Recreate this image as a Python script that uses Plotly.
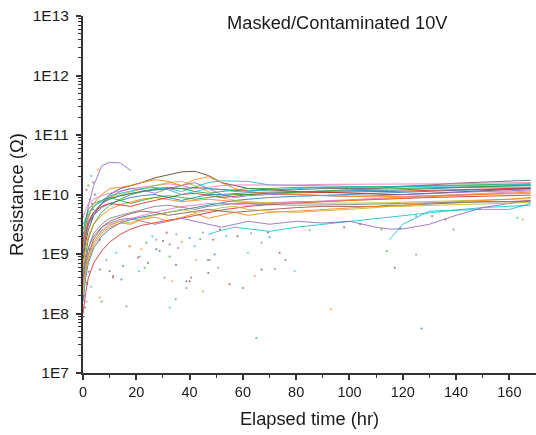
import plotly.graph_objects as go

# time grid (hr)
T = [0, 1, 2, 4, 7, 10, 14, 18, 22, 27, 32, 37, 42, 47, 52, 57, 62, 70, 80, 90,
     100, 110, 115, 120, 130, 140, 150, 160, 168]

N = None
# log10(resistance) of each specimen
s01 = [9.2, 9.55, 9.8, 10.15, 10.48, 10.54, 10.53, 10.40] + [N] * 21
s02 = [8.9, 9.2, 9.4, 9.65, 9.85, 10.0, 10.1, 10.15, 10.2, 10.28, 10.33, 10.38, 10.39, 10.32, 10.2, 10.15, 10.1, 10.08, 10.05, 10.04, 10.02, 10.0, 10.0, 10.0, 10.02, 10.04, 10.06, 10.08, 10.1]
s03 = [9.5, 9.6, 9.7, 9.8, 9.88, 9.93, 9.98, 10.02, 10.05, 10.08, 10.1, 10.05, 10.12, 10.2, 10.23, 10.23, 10.22, 10.16, 10.15, 10.14, 10.14, 10.13, 10.13, 10.13, 10.13, 10.12, 10.12, 10.12, 10.12]
s04 = [9.0, 9.3, 9.5, 9.7, 9.85, 9.92, 9.98, 10.02, 10.05, 10.08, 10.1, 10.1, 10.12, 10.1, 10.08, 10.07, 10.06, 10.08, 10.08, 10.1, 10.1, 10.1, 10.12, 10.13, 10.16, 10.19, 10.21, 10.23, 10.24]
s05 = [9.6, 9.75, 9.85, 9.92, 9.98, 10.02, 10.06, 10.1, 10.12, 10.15, 10.18, 10.15, 10.1, 10.12, 10.15, 10.16, 10.16, 10.15, 10.16, 10.17, 10.17, 10.17, 10.17, 10.17, 10.18, 10.18, 10.19, 10.2, 10.2]
s06 = [8.7, 9.0, 9.25, 9.5, 9.7, 9.82, 9.92, 10.0, 10.05, 10.1, 10.12, 10.1, 10.05, 10.02, 10.05, 10.08, 10.1, 10.1, 10.12, 10.12, 10.12, 10.13, 10.13, 10.14, 10.15, 10.15, 10.16, 10.17, 10.18]
s07 = [8.2, 8.6, 8.85, 9.1, 9.3, 9.42, 9.52, 9.58, 9.62, 9.66, 9.7, 9.74, 9.78, 9.82, 9.86, 9.9, 9.92, 9.95, 9.97, 9.98, 10.0, 10.02, 10.03, 10.04, 10.06, 10.07, 10.08, 10.09, 10.1]
s08 = [8.0, 8.35, 8.6, 8.85, 9.05, 9.2, 9.33, 9.42, 9.48, 9.53, 9.57, 9.6, 9.65, 9.7, 9.74, 9.77, 9.8, 9.83, 9.86, 9.88, 9.9, 9.92, 9.93, 9.94, 9.95, 9.96, 9.97, 9.98, 9.99]
s09 = [8.8, 9.1, 9.3, 9.5, 9.65, 9.75, 9.83, 9.88, 9.92, 9.95, 9.92, 9.88, 9.9, 9.92, 9.9, 9.88, 9.86, 9.86, 9.88, 9.88, 9.9, 9.92, 9.93, 9.94, 9.96, 9.98, 10.0, 10.02, 10.04]
s10 = [9.3, 9.5, 9.65, 9.8, 9.9, 9.95, 10.0, 10.05, 10.1, 10.15, 10.2, 10.22, 10.15, 10.05, 9.95, 9.9, 9.88, 9.85, 9.85, 9.85, 9.85, 9.86, 9.86, 9.87, 9.88, 9.9, 9.9, 9.92, 9.93]
s11 = [8.5, 8.8, 9.0, 9.25, 9.45, 9.55, 9.62, 9.68, 9.72, 9.7, 9.65, 9.68, 9.72, 9.75, 9.72, 9.7, 9.72, 9.75, 9.78, 9.8, 9.8, 9.8, 9.82, 9.82, 9.84, 9.86, 9.88, 9.88, 9.9]
s12 = [N] * 13 + [9.33, 9.4, 9.45, 9.42, 9.38, 9.45, 9.5, 9.55, 9.6, 9.62, 9.64, 9.7, 9.74, 9.78, 9.8, 9.82]
s13 = [N] * 22 + [9.24, 9.5, 9.72, 9.74, 9.75, 9.75, 9.85]
s14 = [8.6, 8.9, 9.1, 9.3, 9.45, 9.52, 9.58, 9.6, 9.55, 9.5, 9.55, 9.6, 9.55, 9.5, 9.45, 9.5, 9.55, 9.5, 9.55, 9.52, 9.55, 9.45, 9.42, 9.42, 9.5, 9.65, 9.78, 9.85, 9.9]
s15 = [9.1, 9.35, 9.5, 9.65, 9.78, 9.85, 9.9, 9.95, 9.98, 10.0, 9.95, 9.9, 9.95, 10.0, 10.0, 10.02, 10.03, 10.04, 10.05, 10.06, 10.06, 10.07, 10.07, 10.08, 10.1, 10.12, 10.14, 10.15, 10.16]
s16 = [9.2, 9.4, 9.55, 9.7, 9.8, 9.85, 9.82, 9.8, 9.85, 9.9, 9.95, 10.0, 10.02, 9.98, 9.95, 9.97, 10.0, 10.02, 10.03, 10.03, 10.04, 10.05, 10.05, 10.06, 10.07, 10.08, 10.09, 10.1, 10.11]
s17 = [8.4, 8.7, 8.9, 9.15, 9.35, 9.45, 9.52, 9.5, 9.58, 9.62, 9.55, 9.62, 9.68, 9.6, 9.65, 9.7, 9.65, 9.7, 9.72, 9.75, 9.78, 9.8, 9.8, 9.82, 9.85, 9.88, 9.9, 9.92, 9.95]
s18 = [9.4, 9.6, 9.75, 9.85, 9.9, 9.95, 9.9, 9.85, 9.9, 9.95, 9.98, 9.95, 9.92, 9.95, 9.98, 10.0, 10.0, 10.02, 10.04, 10.06, 10.08, 10.09, 10.1, 10.1, 10.11, 10.12, 10.13, 10.14, 10.15]
s19 = [8.5, 8.8, 9.0, 9.2, 9.38, 9.48, 9.55, 9.6, 9.65, 9.7, 9.75, 9.8, 9.82, 9.85, 9.85, 9.83, 9.82, 9.85, 9.87, 9.9, 9.92, 9.94, 9.95, 9.96, 9.98, 10.0, 10.02, 10.04, 10.06]
s20 = [8.3, 8.7, 8.95, 9.2, 9.4, 9.5, 9.55, 9.52, 9.6, 9.65, 9.7, 9.75, 9.7, 9.72, 9.78, 9.8, 9.75, 9.72, 9.7, 9.72, 9.75, 9.78, 9.8, 9.8, 9.82, 9.83, 9.84, 9.86, 9.87]
s21 = [9.0, 9.3, 9.5, 9.7, 9.85, 9.95, 10.05, 10.1, 10.08, 10.02, 10.1, 10.15, 10.2, 10.1, 10.0, 9.95, 9.98, 10.0, 10.0, 9.98, 9.97, 9.98, 9.99, 10.0, 10.02, 10.04, 10.05, 10.06, 10.08]
s22 = [8.6, 8.9, 9.1, 9.35, 9.5, 9.6, 9.65, 9.7, 9.75, 9.8, 9.82, 9.78, 9.75, 9.8, 9.82, 9.85, 9.85, 9.83, 9.82, 9.82, 9.83, 9.84, 9.85, 9.85, 9.86, 9.87, 9.87, 9.88, 9.88]
s23 = [9.3, 9.5, 9.65, 9.8, 9.9, 9.98, 10.02, 10.05, 10.1, 10.12, 10.08, 10.0, 10.05, 10.1, 10.08, 10.05, 10.06, 10.08, 10.1, 10.12, 10.12, 10.12, 10.13, 10.13, 10.14, 10.15, 10.16, 10.17, 10.17]
s24 = [9.1, 9.4, 9.6, 9.85, 10.0, 10.1, 10.12, 10.15, 10.2, 10.25, 10.22, 10.15, 10.25, 10.3, 10.2, 10.1, 10.05, 10.02, 10.0, 9.98, 9.97, 9.96, 9.96, 9.97, 9.98, 9.99, 10.0, 10.01, 10.02]

series = [s01, s02, s03, s04, s05, s06, s07, s08, s09, s10, s11, s12,
          s13, s14, s15, s16, s17, s18, s19, s20, s21, s22, s23, s24]
colors = ["#9467bd", "#5b3a2e", "#17becf", "#5f5f5f", "#e377c2", "#2ca02c",
          "#1f77b4", "#d62728", "#ff7f0e", "#bcbd22", "#8c564b", "#17becf",
          "#17becf", "#9467bd", "#1f77b4", "#d62728", "#ff7f0e", "#2ca02c",
          "#e377c2", "#bcbd22", "#9467bd", "#7f7f7f", "#17becf", "#ff7f0e"]

# stray readings scattered around the curves
dot_t = [0.3, 0.5, 0.8, 1.3, 1.6, 2.2, 3.0, 6.3, 7.0, 10.0, 11.2, 14.4, 16.3, 17.5,
         20.6, 21.0, 21.9, 23.1, 24.4, 27.5, 28.8, 30.6, 31.4, 32.5, 32.5, 33.5, 34.8, 34.9,
         35.7, 38.8, 38.8, 40.0, 40.6, 41.9, 45.0, 46.9, 47.0, 47.5, 49.4, 50.7, 55.0, 60.0,
         61.9, 64.4, 65.0, 67.0, 67.0, 69.4, 72.0, 73.8, 76.0, 79.4, 93.0, 114.0, 117.0, 125.0,
         127.0, 139.0,
         6.3, 2.5, 12.5, 17.5, 23.8, 30.0, 35.0, 40.0, 45.0, 48.8, 51.4, 53.8, 42.5, 32.5,
         27.5, 21.3, 15.0, 8.8, 11.3, 6.3, 1.3, 0.0, 0.6, 0.0, 1.9, 3.8, 2.5, 1.3, 3.8, 3.1,
         5.6, 2.0, 4.4, 3.3, 119.0, 125.0, 131.0, 136.0, 163.0, 165.0, 112.0, 58.0, 63.0, 70.0,
         85.0, 98.0, 104.0, 26.0, 37.0, 44.0]
dot_log = [7.95, 8.3, 8.1, 8.2, 8.5, 8.7, 8.45, 8.27, 8.2, 8.71, 8.6, 8.57, 8.12, 9.13,
           8.94, 8.71, 9.08, 8.77, 8.85, 9.24, 9.05, 8.6, 9.36, 9.16, 8.1, 8.54, 8.24, 8.82,
           9.1, 8.54, 8.43, 8.54, 8.6, 9.13, 8.37, 8.9, 8.68, 8.9, 8.99, 8.77, 8.49, 8.43,
           9.02, 8.63, 7.59, 8.74, 9.19, 9.36, 8.75, 9.02, 8.9, 8.71, 8.07, 9.05, 8.77, 8.99,
           7.75, 9.41,
           9.24, 9.08, 9.02, 9.13, 9.19, 9.22, 9.33, 9.27, 9.36, 9.24, 9.41, 9.3, 8.9, 8.96,
           9.08, 8.96, 8.8, 8.9, 8.63, 8.74, 8.52, 8.8, 9.08, 9.36, 9.52, 9.75, 9.92, 10.08, 10.2, 10.31,
           10.42, 10.15, 10.0, 9.85, 9.43, 9.64, 9.64, 9.58, 9.61, 9.58, 9.41, 9.3, 9.35, 9.28,
           9.4, 9.45, 9.5, 9.3, 9.2, 9.25]
dot_colors = ["#555555", "#9467bd", "#1f77b4", "#7f7f7f", "#d62728", "#8c564b",
              "#17becf", "#ff7f0e", "#2ca02c"]

y_tick_vals = [1e7, 1e8, 1e9, 1e10, 1e11, 1e12, 1e13]
y_tick_text = ["1E7", "1E8", "1E9", "1E10", "1E11", "1E12", "1E13"]
x_tick_vals = [0, 20, 40, 60, 80, 100, 120, 140, 160]

fig = go.Figure()
for s, c in zip(series, colors):
    fig.add_trace(go.Scatter(
        x=T, y=[None if v is None else 10 ** v for v in s],
        mode="lines", line=dict(color=c, width=1.0), opacity=0.85,
        connectgaps=False, showlegend=False, hoverinfo="skip"))

fig.add_trace(go.Scatter(
    x=dot_t, y=[10 ** v for v in dot_log], mode="markers",
    marker=dict(size=2, color=[dot_colors[i % len(dot_colors)] for i in range(len(dot_t))]),
    opacity=0.75, showlegend=False, hoverinfo="skip"))

minor_y = [m * 10 ** e for e in range(7, 13) for m in range(2, 10)]

axis_color = "#333333"
fig.update_layout(
    width=536, height=435,
    margin=dict(l=83, r=0, t=16, b=62),
    paper_bgcolor="white", plot_bgcolor="white",
    font=dict(family="Liberation Sans, Arial, sans-serif", color="#1a1a1a", size=14),
    xaxis=dict(
        range=[0, 170], tickmode="array", tickvals=x_tick_vals,
        ticks="outside", ticklen=5, tickwidth=1.5, tickcolor=axis_color,
        minor=dict(ticks="outside", ticklen=3, tickwidth=1.2, tickcolor=axis_color,
                   tickmode="linear", tick0=0, dtick=10),
        showline=True, linecolor=axis_color, linewidth=2,
        showgrid=False, zeroline=False,
        tickfont=dict(size=14.5),
        title=dict(text="Elapsed time (hr)", font=dict(size=18.3), standoff=13),
    ),
    yaxis=dict(
        type="log", range=[7, 13], tickmode="array",
        tickvals=y_tick_vals, ticktext=y_tick_text,
        ticks="outside", ticklen=5, tickwidth=1.5, tickcolor=axis_color,
        minor=dict(ticks="outside", ticklen=3, tickwidth=1, tickcolor=axis_color,
                   tickmode="array", tickvals=minor_y),
        showline=True, linecolor=axis_color, linewidth=2,
        showgrid=False, zeroline=False,
        tickfont=dict(size=15.5), ticklabelstandoff=4,
        title=dict(text="Resistance (Ω)", font=dict(size=18.5), standoff=4),
    ),
    annotations=[dict(
        text="Masked/Contaminated 10V", x=(337.5 - 83) / 453, y=1 - (22 - 16) / 357,
        xref="paper", yref="paper", xanchor="center", yanchor="middle",
        showarrow=False, font=dict(size=18.3, color="#1a1a1a"))],
)

fig.write_html("out.html")
